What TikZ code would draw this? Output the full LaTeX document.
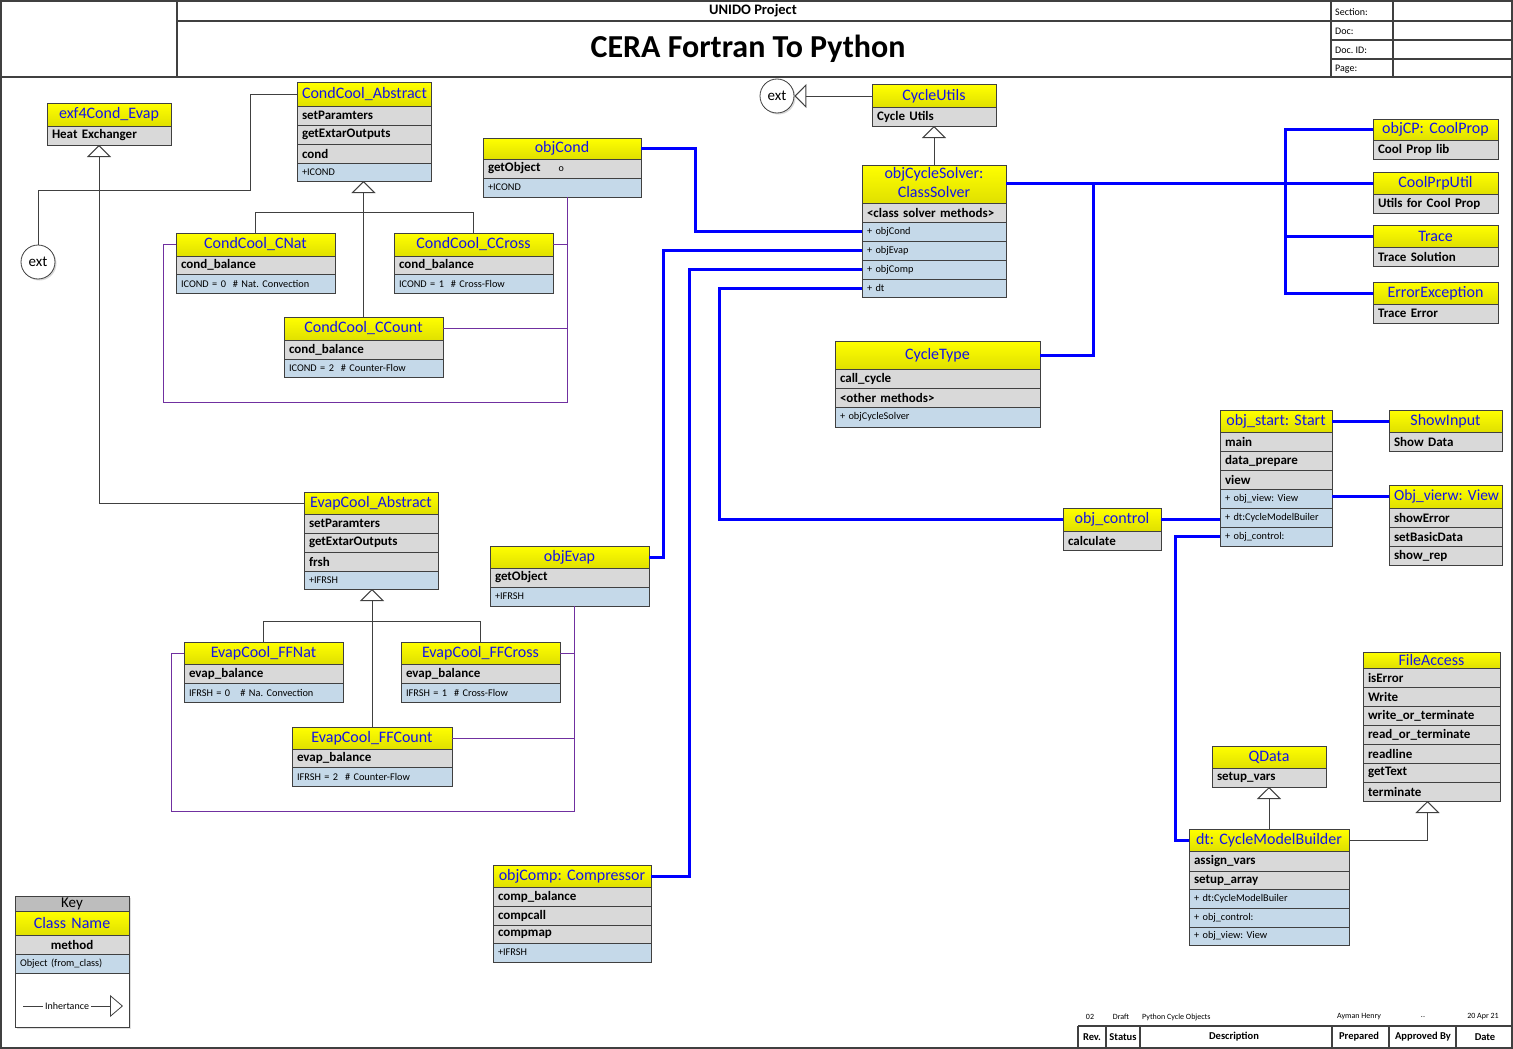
\documentclass[tikz,border=0pt]{standalone}
\usepackage{fontspec}
\setmainfont{Carlito}
\usetikzlibrary{arrows.meta,shadows}
\definecolor{bordc}{HTML}{404040}
\definecolor{hyA}{HTML}{FFFF00}
\definecolor{hyB}{HTML}{E0E000}
\definecolor{hblue}{HTML}{1414E6}
\definecolor{rowgray}{HTML}{D9D9D9}
\definecolor{rowblue}{HTML}{C5D9E9}
\definecolor{purp}{HTML}{7030A0}
\definecolor{keygray}{HTML}{BDBDBD}
\definecolor{lineblue}{HTML}{0000FF}
\newcommand\umlrow[7]{%
  \pgfmathsetmacro\umlw{#4-#3-10}%
  \pgfmathsetmacro\umlh{#6-#5}%
  \node[#2, text width=\umlw pt, minimum height=\umlh pt, anchor=north west] (#1) at (#3,-#5) {\mbox{#7}};%
}
\tikzset{
  box/.style={draw=bordc, line width=1pt, inner ysep=0pt, inner xsep=5pt, outer sep=0pt},
  hdr/.style={box, top color=hyA, bottom color=hyB, text=hblue, font=\fontsize{16}{19}\selectfont, align=center},
  mrow/.style={box, fill=rowgray, font=\bfseries\fontsize{13}{15}\selectfont, align=left},
  orow/.style={box, fill=rowblue, font=\fontsize{10.3}{12}\selectfont, align=left},
  keyhd/.style={box, fill=keygray, font=\fontsize{15}{16}\selectfont, align=center},
  gl/.style={draw=bordc, line width=1pt},
  inh/.style={gl, -{Triangle[open, length=12pt, width=24pt]}},
  pur/.style={draw=purp, line width=0.9pt},
  bl/.style={draw=lineblue, line width=3pt},
  frame/.style={draw=bordc, line width=1.3pt},
  extc/.style={circle, draw=bordc, line width=0.8pt, fill=white, minimum size=34pt, inner sep=0pt, font=\fontsize{15}{17}\selectfont, drop shadow={shadow xshift=1.5pt, shadow yshift=-1.5pt, opacity=0.3}},
  lab/.style={font=\fontsize{10}{11}\selectfont, anchor=west, inner sep=0pt},
  tbh/.style={font=\bfseries\fontsize{10.5}{12}\selectfont, inner sep=0pt},
  tbd/.style={font=\fontsize{8}{9}\selectfont, inner sep=0pt}
}
\begin{document}
\frenchspacing
\begin{tikzpicture}[x=1pt,y=1pt]
\useasboundingbox (0,0) rectangle (1513,-1049);
\fill[white] (0,0) rectangle (1513,-1049);
% ---------- frame and header ----------
\draw[frame] (1,-1) rectangle (1512,-1048);
\draw[frame] (1,-77) -- (1512,-77);
\draw[frame] (177,-1) -- (177,-77);
\draw[frame] (177,-21) -- (1512,-21);
\draw[frame] (1331,-1) -- (1331,-77);
\draw[frame] (1393,-1) -- (1393,-77);
\draw[frame] (1331,-40) -- (1512,-40);
\draw[frame] (1331,-59) -- (1512,-59);
\node[font=\bfseries\fontsize{14.5}{16}\selectfont, inner sep=0pt] (proj) at (753,-11) {UNIDO Project};
\node[font=\bfseries\fontsize{32}{36}\selectfont, inner sep=0pt] (title) at (748,-49) {CERA Fortran To Python};
\node[lab] (lsec) at (1335,-12) {Section:};
\node[lab] (ldoc) at (1335,-31) {Doc:};
\node[lab] (ldid) at (1335,-50) {Doc. ID:};
\node[lab] (lpag) at (1335,-69) {Page:};
% ---------- title block ----------
\draw[frame] (1078,-1026) -- (1512,-1026);
\draw[frame] (1078,-1026) -- (1078,-1048);
\draw[frame] (1106,-1026) -- (1106,-1048);
\draw[frame] (1140,-1026) -- (1140,-1048);
\draw[frame] (1332,-1026) -- (1332,-1048);
\draw[frame] (1389,-1026) -- (1389,-1048);
\draw[frame] (1456,-1026) -- (1456,-1048);
\node[tbh] (hrev) at (1092,-1037) {Rev.};
\node[tbh] (hsta) at (1123,-1037) {Status};
\node[tbh] (hdes) at (1234,-1037) {Description};
\node[tbh] (hpre) at (1359,-1037) {Prepared};
\node[tbh] (happ) at (1423,-1037) {Approved By};
\node[tbh] (hdat) at (1485,-1037) {Date};
\node[tbd] (drev) at (1090,-1017) {02};
\node[tbd] (dsta) at (1121,-1017) {Draft};
\node[tbd, anchor=west] (ddes) at (1142,-1017) {Python Cycle Objects};
\node[tbd] (dpre) at (1359,-1017) {Ayman Henry};
\node[tbd] (dapp) at (1423,-1017) {..};
\node[tbd] (ddat) at (1483,-1017) {20 Apr 21};
% ---------- classes ----------
\umlrow{exf}{hdr}{47}{171}{103}{126}{exf4Cond\_Evap}
\umlrow{exf1}{mrow}{47}{171}{126}{145}{Heat Exchanger}

\umlrow{cca}{hdr}{297}{431}{83}{106}{CondCool\_Abstract}
\umlrow{cca1}{mrow}{297}{431}{106}{125}{setParamters}
\umlrow{cca2}{mrow}{297}{431}{125}{144}{getExtarOutputs}
\umlrow{cca3}{mrow}{297}{431}{144}{163}{cond}
\umlrow{cca4}{orow}{297}{431}{163}{181}{+ICOND}

\umlrow{cnat}{hdr}{176}{335}{233}{256}{CondCool\_CNat}
\umlrow{cnat1}{mrow}{176}{335}{256}{274}{cond\_balance}
\umlrow{cnat2}{orow}{176}{335}{274}{293}{ICOND = 0~~\# Nat. Convection}

\umlrow{ccross}{hdr}{394}{553}{233}{256}{CondCool\_CCross}
\umlrow{ccross1}{mrow}{394}{553}{256}{274}{cond\_balance}
\umlrow{ccross2}{orow}{394}{553}{274}{293}{ICOND = 1~~\# Cross-Flow}

\umlrow{ccount}{hdr}{284}{443}{317}{340}{CondCool\_CCount}
\umlrow{ccount1}{mrow}{284}{443}{340}{359}{cond\_balance}
\umlrow{ccount2}{orow}{284}{443}{359}{377}{ICOND = 2~~\# Counter-Flow}

\umlrow{ocond}{hdr}{483}{641}{138}{159}{objCond}
\umlrow{ocond1}{mrow}{483}{641}{159}{178}{getObject\hspace{18pt}{\mdseries\fontsize{10}{11}\selectfont o}}
\umlrow{ocond2}{orow}{483}{641}{178}{197}{+ICOND}

\umlrow{cu}{hdr}{872}{996}{85}{107}{CycleUtils}
\umlrow{cu1}{mrow}{872}{996}{107}{126}{Cycle Utils}

\umlrow{sol}{hdr}{862}{1006}{165}{203}{\begin{tabular}{@{}c@{}}objCycleSolver:\\ClassSolver\end{tabular}}
\umlrow{sol1}{mrow}{862}{1006}{203}{222}{<class solver methods>}
\umlrow{sol2}{orow}{862}{1006}{222}{241}{+ objCond}
\umlrow{sol3}{orow}{862}{1006}{241}{260}{+ objEvap}
\umlrow{sol4}{orow}{862}{1006}{260}{279}{+ objComp}
\umlrow{sol5}{orow}{862}{1006}{279}{297}{+ dt}

\umlrow{cp}{hdr}{1373}{1498}{119}{140}{objCP: CoolProp}
\umlrow{cp1}{mrow}{1373}{1498}{140}{159}{Cool Prop lib}
\umlrow{cpu}{hdr}{1373}{1498}{172}{194}{CoolPrpUtil}
\umlrow{cpu1}{mrow}{1373}{1498}{194}{213}{Utils for Cool Prop}
\umlrow{tr}{hdr}{1373}{1498}{225}{247}{Trace}
\umlrow{tr1}{mrow}{1373}{1498}{247}{266}{Trace Solution}
\umlrow{ee}{hdr}{1373}{1498}{282}{304}{ErrorException}
\umlrow{ee1}{mrow}{1373}{1498}{304}{323}{Trace Error}

\umlrow{ct}{hdr}{835}{1040}{341}{369}{CycleType}
\umlrow{ct1}{mrow}{835}{1040}{369}{388}{call\_cycle}
\umlrow{ct2}{mrow}{835}{1040}{388}{407}{<other methods>}
\umlrow{ct3}{orow}{835}{1040}{407}{427}{+ objCycleSolver}

\umlrow{st}{hdr}{1220}{1332}{410}{432}{obj\_start: Start}
\umlrow{st1}{mrow}{1220}{1332}{432}{451}{main}
\umlrow{st2}{mrow}{1220}{1332}{451}{470}{data\_prepare}
\umlrow{st3}{mrow}{1220}{1332}{470}{489}{view}
\umlrow{st4}{orow}{1220}{1332}{489}{508}{+ obj\_view: View}
\umlrow{st5}{orow}{1220}{1332}{508}{527}{+ dt:CycleModelBuiler}
\umlrow{st6}{orow}{1220}{1332}{527}{546}{+ obj\_control:}

\umlrow{si}{hdr}{1389}{1502}{410}{432}{ShowInput}
\umlrow{si1}{mrow}{1389}{1502}{432}{451}{Show Data}
\umlrow{vw}{hdr, font=\fontsize{15.5}{18}\selectfont}{1389}{1502}{485}{508}{Obj\_vierw: View}
\umlrow{vw1}{mrow}{1389}{1502}{508}{527}{showError}
\umlrow{vw2}{mrow}{1389}{1502}{527}{546}{setBasicData}
\umlrow{vw3}{mrow}{1389}{1502}{546}{565}{show\_rep}

\umlrow{ctl}{hdr}{1063}{1161}{508}{531}{obj\_control}
\umlrow{ctl1}{mrow}{1063}{1161}{531}{550}{calculate}

\umlrow{eca}{hdr}{304}{438}{492}{514}{EvapCool\_Abstract}
\umlrow{eca1}{mrow}{304}{438}{514}{533}{setParamters}
\umlrow{eca2}{mrow}{304}{438}{533}{552}{getExtarOutputs}
\umlrow{eca3}{mrow}{304}{438}{552}{571}{frsh}
\umlrow{eca4}{orow}{304}{438}{571}{589}{+IFRSH}

\umlrow{oev}{hdr}{490}{649}{546}{568}{objEvap}
\umlrow{oev1}{mrow}{490}{649}{568}{587}{getObject}
\umlrow{oev2}{orow}{490}{649}{587}{606}{+IFRSH}

\umlrow{ffn}{hdr}{184}{343}{642}{664}{EvapCool\_FFNat}
\umlrow{ffn1}{mrow}{184}{343}{664}{683}{evap\_balance}
\umlrow{ffn2}{orow}{184}{343}{683}{702}{IFRSH = 0~~~\# Na. Convection}
\umlrow{ffc}{hdr}{401}{560}{642}{664}{EvapCool\_FFCross}
\umlrow{ffc1}{mrow}{401}{560}{664}{683}{evap\_balance}
\umlrow{ffc2}{orow}{401}{560}{683}{702}{IFRSH = 1~~\# Cross-Flow}
\umlrow{ffo}{hdr}{292}{452}{727}{749}{EvapCool\_FFCount}
\umlrow{ffo1}{mrow}{292}{452}{749}{767}{evap\_balance}
\umlrow{ffo2}{orow}{292}{452}{767}{786}{IFRSH = 2~~\# Counter-Flow}

\umlrow{cmp}{hdr}{493}{651}{865}{887}{objComp: Compressor}
\umlrow{cmp1}{mrow}{493}{651}{887}{906}{comp\_balance}
\umlrow{cmp2}{mrow}{493}{651}{906}{925}{compcall}
\umlrow{cmp3}{mrow}{493}{651}{925}{943}{compmap}
\umlrow{cmp4}{orow}{493}{651}{943}{962}{+IFRSH}

\umlrow{qd}{hdr}{1212}{1326}{746}{768}{QData}
\umlrow{qd1}{mrow}{1212}{1326}{768}{787}{setup\_vars}

\umlrow{fa}{hdr}{1363}{1500}{652}{668}{FileAccess}
\umlrow{fa1}{mrow}{1363}{1500}{668}{687}{isError}
\umlrow{fa2}{mrow}{1363}{1500}{687}{706}{Write}
\umlrow{fa3}{mrow}{1363}{1500}{706}{725}{write\_or\_terminate}
\umlrow{fa4}{mrow}{1363}{1500}{725}{744}{read\_or\_terminate}
\umlrow{fa5}{mrow}{1363}{1500}{744}{763}{readline}
\umlrow{fa6}{mrow}{1363}{1500}{763}{782}{getText}
\umlrow{fa7}{mrow}{1363}{1500}{782}{801}{terminate}

\umlrow{dt}{hdr}{1189}{1349}{829}{851}{dt: CycleModelBuilder}
\umlrow{dt1}{mrow}{1189}{1349}{851}{871}{assign\_vars}
\umlrow{dt2}{mrow}{1189}{1349}{871}{889}{setup\_array}
\umlrow{dt3}{orow}{1189}{1349}{889}{908}{+ dt:CycleModelBuiler}
\umlrow{dt4}{orow}{1189}{1349}{908}{927}{+ obj\_control:}
\umlrow{dt5}{orow}{1189}{1349}{927}{945}{+ obj\_view: View}

% ---------- ext circles ----------
\node[extc] (ext1) at (38,-262) {ext};
\node[extc] (ext2) at (777,-96) {ext};

% ---------- key ----------
\draw[gl, fill=white, drop shadow={shadow xshift=1.5pt, shadow yshift=-1.5pt, opacity=0.25}] (15,-896) rectangle (129,-1027);
\umlrow{key0}{keyhd}{15}{129}{896}{911}{Key}
\umlrow{key1}{hdr}{15}{129}{911}{935}{Class Name}
\umlrow{key2}{mrow, align=center}{15}{129}{935}{954}{method}
\umlrow{key3}{orow}{15}{129}{954}{973}{Object (from\_class)}
\coordinate (kl1) at (23,-1006);
\coordinate (kl2) at (123,-1006);
\draw[gl, line width=0.8pt, -{Triangle[open, length=13pt, width=22pt]}] (kl1) -- node[pos=0.44, fill=white, inner sep=2pt, font=\fontsize{10}{11}\selectfont] (kltxt) {Inhertance} (kl2);

% ---------- coordinates ----------
\coordinate (pc) at (567,-197);
\coordinate (pl) at (163,-402);
\coordinate (pe) at (574,-606);
\coordinate (pl2) at (171,-811);
\coordinate (exfT) at (99,-145);
\coordinate (j1) at (250,-190);

% ---------- purple connectors ----------
\draw[pur] (cnat.west) -| (pl) -| (pc);
\draw[pur] (ccross.east) -| (pc);
\draw[pur] (ccount.east) -| (pc);
\draw[pur] (ffn.west) -| (pl2) -| (pe);
\draw[pur] (ffc.east) -| (pe);
\draw[pur] (ffo.east) -| (pe);

% ---------- gray connectors ----------
\draw[inh] (eca.west) -| (exfT);
\draw[gl] (ext1.north) |- (j1) |- (cca.west);
\draw[inh] (ccount.north) -- (ccount.north |- cca4.south);
\draw[gl] (cnat.north) -- ++(0,21) -| (ccross.north);
\draw[inh] (ffo.north) -- (ffo.north |- eca4.south);
\draw[gl] (ffn.north) -- ++(0,21) -| (ffc.north);
\draw[inh] (cu.west) -- (ext2.east);
\draw[inh] (sol.north) -- (cu1.south);
\draw[inh] (dt.north) -- (qd1.south);
\draw[inh] (dt.east) -| ([xshift=-4pt]fa7.south);

% ---------- blue connectors ----------
\draw[bl] (ocond.east) -- ++(54,0) |- (sol2.west);
\draw[bl] (oev.east) -- ++(14,0) |- (sol3.west);
\draw[bl] (cmp.east) -- ++(38,0) |- (sol4.west);
\draw[bl] (ctl.west) -- ++(-344,0) |- (sol5.west);
\draw[bl] (ctl.east) -- (ctl.east -| st5.west);
\draw[bl] (st6.west) -- ++(-45,0) |- (dt.west);
\draw[bl] (st.east) -- (si.west);
\draw[bl] (st4.east |- vw.west) -- (vw.west);
\draw[bl] (sol.east |- cpu.west) -- (cpu.west);
\draw[bl] (sol.east |- cpu.west) -- ++(87,0) |- (ct.east);
\draw[bl] (cp.west) -- ++(-88,0) |- (ee.west);
\draw[bl] (tr.west) -- ++(-88,0);
\end{tikzpicture}
\end{document}
